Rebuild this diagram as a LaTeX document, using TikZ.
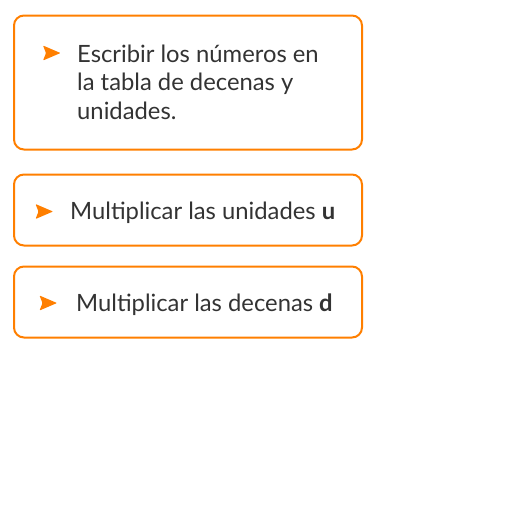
\documentclass[tikz,border=0pt]{standalone}
\usepackage{fontspec}
\setmainfont{Lato}
\definecolor{cardorange}{HTML}{FF7F00}
\definecolor{cardtext}{HTML}{333333}

\begin{document}
\begin{tikzpicture}[x=1pt,y=-1pt,
        card/.style={draw=cardorange, line width=2pt, rounded corners=10pt,
            anchor=north west, inner sep=0pt, minimum width=348pt},
        step text/.style={text=cardtext, inner sep=0pt, anchor=base west,
            align=left, font=\fontsize{23.8}{28.5}\selectfont},
        chevron/.pic={\fill[cardorange, rounded corners=0.8pt]
            (0,0) -- (17.5,7.5) -- (0,15) -- (3,7.5) -- cycle;}]
\useasboundingbox (0,0) rectangle (512,512);

\node[card, minimum height=134pt] (card1) at (13,14.5) {};
\node[card, minimum height=71pt]  (card2) at (13,173.5) {};
\node[card, minimum height=71pt]  (card3) at (13,265.5) {};

\pic at (43,45.5) {chevron};
\pic at (35.5,204) {chevron};
\pic at (39.5,295.5) {chevron};

% base anchor sits on the last line
\node[step text] (step1) at (77,119) {Escribir los números en\\la tabla de decenas y\\unidades.};
\node[step text] (step2) at (70,219) {Multiplicar las unidades \textbf{u}};
\node[step text] (step3) at (76,311) {Multiplicar las decenas \textbf{d}};

\end{tikzpicture}
\end{document}
